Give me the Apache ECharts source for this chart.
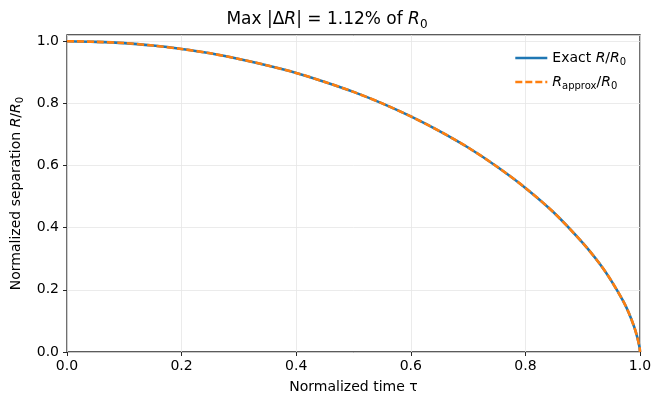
<!DOCTYPE html>
<html>
<head>
<meta charset="utf-8">
<script src="https://cdn.jsdelivr.net/npm/echarts@6/dist/echarts.min.js"></script>
<style>
html,body{margin:0;padding:0;background:#fff;}
#chart{width:654px;height:395px;}
</style>
</head>
<body>
<div id="chart"></div>
<script>
// Values
const tau     = [0, 0.05, 0.10, 0.15, 0.20, 0.25, 0.30, 0.35, 0.40, 0.45, 0.50, 0.55, 0.60, 0.65, 0.70, 0.75, 0.80, 0.85, 0.90, 0.93, 0.95, 0.97, 0.98, 0.99, 0.995, 0.999, 1.0];
const exactR  = [1.000, 0.998, 0.994, 0.986, 0.975, 0.961, 0.943, 0.922, 0.898, 0.869, 0.837, 0.800, 0.758, 0.711, 0.658, 0.597, 0.528, 0.448, 0.351, 0.283, 0.229, 0.166, 0.128, 0.080, 0.049, 0.017, 0.000];
const approxR = [1.000, 0.998, 0.994, 0.986, 0.975, 0.961, 0.943, 0.922, 0.898, 0.869, 0.837, 0.800, 0.758, 0.711, 0.658, 0.597, 0.528, 0.448, 0.351, 0.283, 0.229, 0.166, 0.128, 0.080, 0.049, 0.017, 0.000];
const xTicks  = [0, 0.2, 0.4, 0.6, 0.8, 1.0];
const yTicks  = [0, 0.2, 0.4, 0.6, 0.8, 1.0];

const FONT = 'DejaVu Sans';
const chart = echarts.init(document.getElementById('chart'), null, {renderer: 'canvas'});

const exactData = tau.map((t, i) => [t, exactR[i]]);
const approxData = tau.map((t, i) => [t, approxR[i]]);

const richBase = {
  n: {fontFamily: FONT, fontSize: 14, color: '#000', lineHeight: 18, verticalAlign: 'middle'},
  i: {fontFamily: FONT, fontSize: 14, color: '#000', fontStyle: 'italic', lineHeight: 18, verticalAlign: 'middle'},
  s: {fontFamily: FONT, fontSize: 10, color: '#000', lineHeight: 10, verticalAlign: 'bottom'}
};

const isTick = (v, ticks) => ticks.some(t => Math.abs(t - v) < 1e-6);

chart.setOption({
  animation: false,
  backgroundColor: '#fff',
  title: {
    text: '{n|Max |Δ}{i|R}{n|| = 1.12% of }{i|R}{s|0}',
    left: 'center',
    top: 4,
    textStyle: {
      fontFamily: FONT, fontSize: 17, fontWeight: 'normal', color: '#000',
      rich: {
        n: {fontFamily: FONT, fontSize: 17, color: '#000', lineHeight: 22, verticalAlign: 'middle'},
        i: {fontFamily: FONT, fontSize: 17, color: '#000', fontStyle: 'italic', lineHeight: 22, verticalAlign: 'middle'},
        s: {fontFamily: FONT, fontSize: 12, color: '#000', lineHeight: 12, verticalAlign: 'bottom'}
      }
    }
  },
  grid: {
    left: 67, right: 14, top: 35, bottom: 43,
    outerBoundsMode: 'none',
    containLabel: false,
    show: true, borderColor: '#262626', borderWidth: 1.3, backgroundColor: 'transparent'
  },
  legend: {
    orient: 'vertical',
    left: 509,
    top: 46,
    itemWidth: 32,
    itemHeight: 14,
    itemGap: 8,
    itemStyle: {opacity: 0},
    lineStyle: {width: 2.6},
    data: ['exact', 'approx'],
    formatter: function (name) {
      if (name === 'exact') return '{n|Exact }{i|R}{n|/}{i|R}{s|0}';
      return '{i|R}{s|approx}{n|/}{i|R}{s|0}';
    },
    textStyle: {fontFamily: FONT, fontSize: 14, color: '#000', rich: richBase}
  },
  xAxis: {
    type: 'value',
    min: 0, max: 1, interval: 0.2,
    name: 'Normalized time τ',
    nameLocation: 'middle',
    nameGap: 28,
    nameTextStyle: {fontFamily: FONT, fontSize: 14, color: '#000'},
    axisLine: {show: false},
    axisTick: {show: true, length: 4, lineStyle: {color: '#262626', width: 1}},
    axisLabel: {
      fontFamily: FONT, fontSize: 14, color: '#000', margin: 7,
      formatter: v => isTick(v, xTicks) ? v.toFixed(1) : ''
    },
    splitLine: {show: true, lineStyle: {color: '#e6e6e6', width: 0.8}}
  },
  yAxis: {
    type: 'value',
    min: 0, max: 1.02, interval: 0.2,
    name: 'Normalized separation {i|R}{n|/}{i|R}{s|0}',
    nameLocation: 'middle',
    nameGap: 39,
    nameRotate: 90,
    nameTextStyle: {fontFamily: FONT, fontSize: 14, color: '#000', rich: richBase},
    axisLine: {show: false},
    axisTick: {show: true, length: 4, lineStyle: {color: '#262626', width: 1}},
    axisLabel: {
      fontFamily: FONT, fontSize: 14, color: '#000', margin: 8,
      showMaxLabel: false,
      formatter: v => isTick(v, yTicks) ? v.toFixed(1) : ''
    },
    splitLine: {show: true, lineStyle: {color: '#e6e6e6', width: 0.8}}
  },
  series: [
    {
      name: 'exact', type: 'line', data: exactData, smooth: 0.3,
      symbol: 'none', clip: false,
      lineStyle: {color: '#1f77b4', width: 2.6, type: 'solid'},
      itemStyle: {color: '#1f77b4'}
    },
    {
      name: 'approx', type: 'line', data: approxData, smooth: 0.3,
      symbol: 'none', clip: false,
      lineStyle: {color: '#ff7f0e', width: 2.6, type: [7, 3]},
      itemStyle: {color: '#ff7f0e'}
    }
  ]
});
</script>
</body>
</html>
